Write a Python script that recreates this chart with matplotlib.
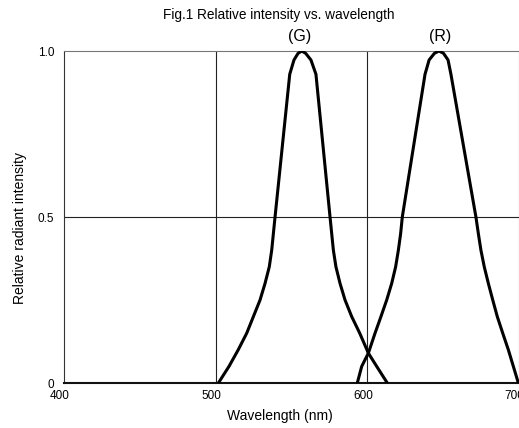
import matplotlib
matplotlib.use("Agg")
import matplotlib.pyplot as plt
import matplotlib.transforms as mtransforms

plt.rcParams['font.family'] = ['Liberation Sans', 'DejaVu Sans']

# green curve
g_nm = [501.9, 508.9, 515, 520.6, 525, 529.4, 532.7, 535.5, 537.1, 538.2, 539.3,
        549, 551.8, 554.5, 557, 559.5, 563, 566.3,
        575.6, 576.7, 577.8, 579.5, 582.2, 585.5, 589.9, 595.2, 600.9, 606.4, 613.4]
g_val = [0, 0.05, 0.10, 0.15, 0.20, 0.25, 0.30, 0.35, 0.40, 0.45, 0.50,
         0.93, 0.973, 0.993, 1.0, 0.993, 0.973, 0.93,
         0.50, 0.45, 0.40, 0.35, 0.30, 0.25, 0.20, 0.15, 0.09, 0.05, 0]

# red curve
r_nm = [593.6, 596.5, 600.9, 605.3, 609.2, 613, 616.3, 618.9, 620.7, 622.2, 623.3,
        638.3, 641, 644.5, 647.5, 650.5, 653.5, 655.4,
        671.9, 673.5, 675.2, 677.4, 680.1, 683, 686, 689.6, 693.3, 696.6, 699.9]
r_val = [0, 0.05, 0.09, 0.15, 0.20, 0.25, 0.30, 0.35, 0.40, 0.45, 0.50,
         0.93, 0.973, 0.993, 1.0, 0.993, 0.973, 0.93,
         0.50, 0.45, 0.40, 0.35, 0.30, 0.25, 0.20, 0.15, 0.10, 0.05, 0]

x_ticks = [400, 500, 600, 700]
y_ticks = [0, 0.5, 1.0]
y_labels = ['0', '0.5', '1.0']

fig = plt.figure(figsize=(5.19, 4.28), dpi=100)
ax = fig.add_axes([64 / 519, 45 / 428, 454.5 / 519, 332 / 428])

ax.plot(g_nm, g_val, color='black', linewidth=2.2, solid_joinstyle='round', solid_capstyle='round', zorder=3)
ax.plot(r_nm, r_val, color='black', linewidth=2.2, solid_joinstyle='round', solid_capstyle='round', zorder=3)

ax.set_xlim(400, 700)
ax.set_ylim(0, 1.0)
ax.set_xticks(x_ticks)
ax.set_yticks(y_ticks)
ax.set_yticklabels(y_labels)
ax.tick_params(length=0, labelsize=8.5)
ax.tick_params(axis='x', pad=5)
ax.tick_params(axis='y', pad=7)

# x labels sit a little left of their gridlines in the reference
shift = mtransforms.ScaledTranslation(-4 / 100, 0, fig.dpi_scale_trans)
for lbl in ax.get_xticklabels():
    lbl.set_transform(lbl.get_transform() + shift)

for xv in [500, 600]:
    ax.axvline(xv, color='#222222', linewidth=0.8, zorder=1)
ax.axhline(0.5, color='#222222', linewidth=0.8, zorder=1)

for s in ['top', 'right']:
    ax.spines[s].set_color('#777777')
    ax.spines[s].set_linewidth(0.8)
ax.spines['left'].set_color('#333333')
ax.spines['left'].set_linewidth(0.8)
ax.spines['bottom'].set_color('#111111')
ax.spines['bottom'].set_linewidth(1.5)

fig.text(279 / 519, 1 - 15 / 428, 'Fig.1 Relative intensity vs. wavelength', ha='center', va='center', fontsize=9.8)
fig.text(300 / 519, 1 - 37 / 428, '(G)', ha='center', va='center', fontsize=11.5)
fig.text(440 / 519, 1 - 37 / 428, '(R)', ha='center', va='center', fontsize=11.5)
fig.text(280 / 519, 1 - 416 / 428, 'Wavelength (nm)', ha='center', va='center', fontsize=10)
fig.text(20 / 519, 1 - 228 / 428, 'Relative radiant intensity', ha='center', va='center', rotation=90, fontsize=10)

fig.savefig('out.png', dpi=100)
